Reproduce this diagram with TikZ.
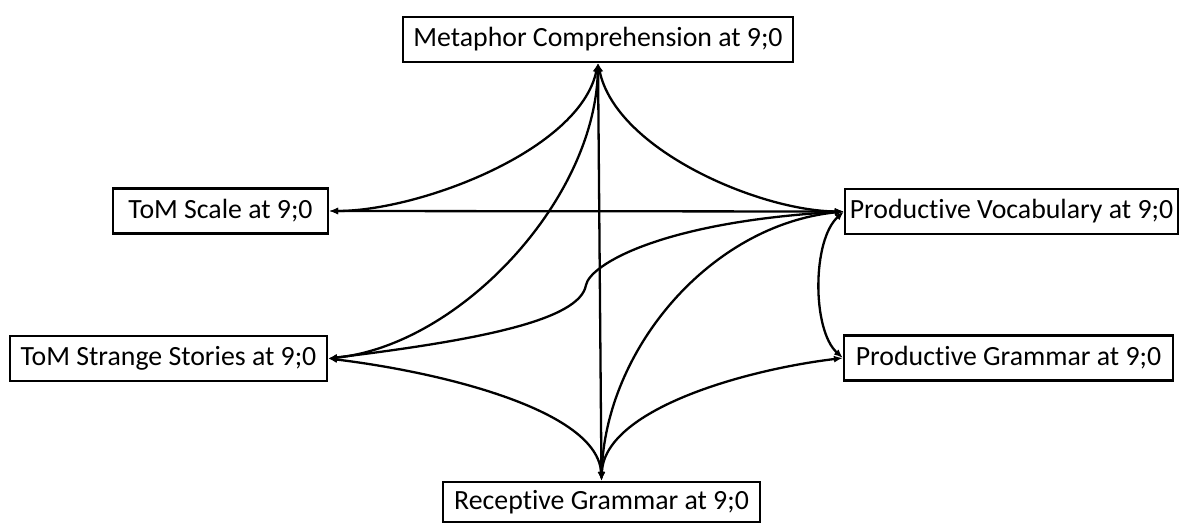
\documentclass[tikz,border=0pt]{standalone}
\usepackage{fontspec}
\setmainfont{Carlito}[Ligatures=NoCommon]
\usetikzlibrary{arrows.meta}
\begin{document}
\begin{tikzpicture}[x=1pt,y=-1pt,
  box/.style={draw, line width=2.2pt, inner sep=0pt, text=black,
    font=\fontsize{27.8}{32}\selectfont, minimum height=45pt},
  link/.style={line width=2.3pt,
    {Latex[length=9pt,width=7pt]}-{Latex[length=9pt,width=7pt]}}]
\useasboundingbox (0,0) rectangle (1180,523);
\node[box, minimum width=390pt] (M)  at (598,39.5)   {Metaphor Comprehension at 9;0};
\node[box, minimum width=215pt] (S)  at (220.5,211)  {ToM Scale at 9;0};
\node[box, minimum width=333pt] (PV) at (1011.5,211.5) {Productive Vocabulary at 9;0};
\node[box, minimum width=317pt] (SS) at (168.5,358.5) {ToM Strange Stories at 9;0};
\node[box, minimum width=329pt] (PG) at (1008.5,358) {Productive Grammar at 9;0};
\node[box, minimum width=317pt, minimum height=40pt] (R) at (601.5,502) {Receptive Grammar at 9;0};
\coordinate (kink) at (586,285);
% edges
\draw[link] (M.south) .. controls (580,150) and (420,211) .. (S.east);
\draw[link] (M.south) .. controls (616,150) and (760,211) .. (PV.west);
\draw[link] (M.south) .. controls (595,200) and (460,345) .. (SS.east);
\draw[link] (M.south) -- (R.north);
\draw[link] (S.east) -- (PV.west);
\draw[link] (SS.east) .. controls (480,340) and (580,320) .. (kink)
  .. controls (590,265) and (660,222) .. (PV.west);
\draw[link] (SS.east) .. controls (440,372) and (598,410) .. (R.north);
\draw[link] (R.north) .. controls (605,350) and (710,225) .. (PV.west);
\draw[link] (R.north) .. controls (604,410) and (743,370) .. (PG.west);
\draw[link] (PV.west) .. controls (812,240) and (812,330) .. (PG.west);
\end{tikzpicture}
\end{document}
